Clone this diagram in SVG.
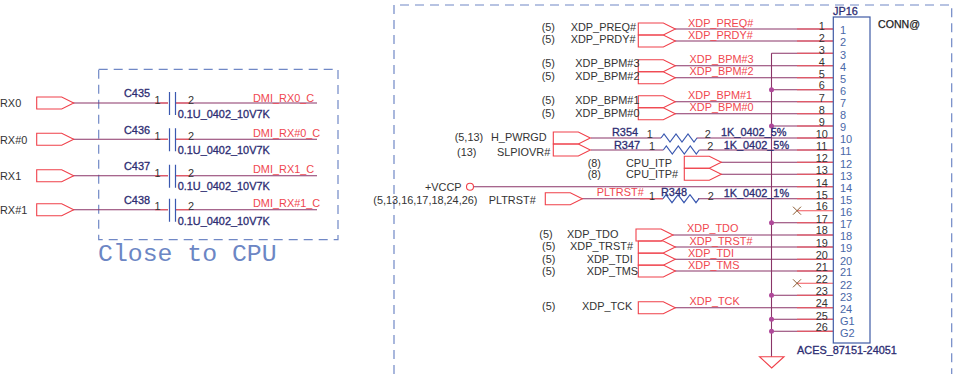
<svg xmlns="http://www.w3.org/2000/svg" width="955" height="374" viewBox="0 0 955 374">
<style>
text{font-family:"Liberation Sans",Arial,sans-serif;font-size:10.9px;fill:#333}
.r{fill:#f0474f}
.b{fill:#2c2c72;stroke:#2c2c72;stroke-width:.3;font-size:10.9px}
.k{fill:#222;stroke:#222;stroke-width:.25;font-size:10.6px}
.i{fill:#4a68a8;font-size:11px}
.pt{fill:none;stroke:#f0404a;stroke-width:1.1}
.w{fill:none;stroke:#8a3568;stroke-width:1.1}
.s{fill:none;stroke:#f2555c;stroke-width:1.1}
.c{fill:none;stroke:#3a58b0;stroke-width:1.2}
.d{fill:none;stroke:#7088c6;stroke-width:1.2;stroke-dasharray:9 6}
.dot{fill:#b0489a}
.x{fill:none;stroke:#8a5a30;stroke-width:1}
</style>
<defs>
<polygon id="p" class="pt" points="0,-6 25,-6 37,0 25,6 0,6"/>
<path id="z" class="c" d="M0 0l3-4 6 8 6-8 6 8 6-8 6 8 3-4"/>
<g id="cp"><path class="c" d="M-3-11v23M3-11v23"/></g>
<path id="xm" class="x" d="M-4-4l8 8M-4 4l8-8"/>
</defs>

<path class="d" d="M98.7 69.3H338V239.7H98.7Z"/>
<text x="98" y="261" style="font-family:'Liberation Mono',monospace;font-size:24.8px;fill:#6c86c4">Close to CPU</text>
<path class="d" d="M394 374V5H951.7V374"/>

<g id="connectors">
<path class="w" d="M73 103H168M176 103H317M73 139.3H168M176 139.3H317M73 175.7H168M176 175.7H317M73 209.7H168M176 209.7H317"/>
<path class="s" d="M155 103H168M176 103H190M155 139.3H168M176 139.3H190M155 175.7H168M176 175.7H190M155 209.7H168M176 209.7H190"/>
<path class="w" d="M675 29H833M675 41H833M771.5 53.2H833M675 65.7H833M675 77.7H833M771.5 89.7H833M675 101.7H833M675 113.7H833M771.5 126H833M590.7 138H661M696.7 138H833M590.7 150H663.3M699.3 150H833M721 162.3H833M721 174.3H833M473.5 186.7H833M581.7 198.7H663M698 198.7H833M771.5 222.7H833M672.7 235H833M675 247H833M675 259.3H833M675 271H833M771.5 295.3H833M675 307.7H833M771.5 319.3H833M771.5 331.3H833M771.5 53.2V356.7"/>
<path class="s" d="M797 29H833M797 41H833M797 53.2H833M797 65.7H833M797 77.7H833M797 89.7H833M797 101.7H833M797 113.7H833M797 126H833M797 138H833M797 150H833M797 162.3H833M797 174.3H833M797 186.7H833M797 198.7H833M797 210.7H833M797 222.7H833M797 235H833M797 247H833M797 259.3H833M797 271H833M797 283.3H833M797 295.3H833M797 307.7H833M797 319.3H833M797 331.3H833M640 198.7H663"/>
<circle class="dot" cx="771.5" cy="89.7" r="2.5"/><circle class="dot" cx="771.5" cy="126" r="2.5"/><circle class="dot" cx="771.5" cy="222.7" r="2.5"/><circle class="dot" cx="771.5" cy="295.3" r="2.5"/><circle class="dot" cx="771.5" cy="319.3" r="2.5"/><circle class="dot" cx="771.5" cy="331.3" r="2.5"/>
<use href="#xm" x="797" y="210.7"/><use href="#xm" x="797" y="283.3"/>
</g>

<g id="port-RX0"><use href="#p" x="36.7" y="103"/><text x="0" y="106.5">RX0</text></g>
<g id="port-RXn0"><use href="#p" x="36.7" y="139.3"/><text x="0" y="144">RX#0</text></g>
<g id="port-RX1"><use href="#p" x="36.7" y="175.7"/><text x="0" y="180">RX1</text></g>
<g id="port-RXn1"><use href="#p" x="36.7" y="209.7"/><text x="0" y="214">RX#1</text></g>

<g id="C435"><use href="#cp" x="172.5" y="103"/><text class="b" x="124" y="96.5">C435</text><text x="154.5" y="103.5">1</text><text x="188" y="103.5">2</text><text class="b" x="177.7" y="118">0.1U_0402_10V7K</text><text class="r" x="253" y="101.5">DMI_RX0_C</text></g>
<g id="C436"><use href="#cp" x="172.5" y="139.3"/><text class="b" x="124" y="133.5">C436</text><text x="154.5" y="140">1</text><text x="188" y="140">2</text><text class="b" x="177.7" y="153.5">0.1U_0402_10V7K</text><text class="r" x="253" y="137">DMI_RX#0_C</text></g>
<g id="C437"><use href="#cp" x="172.5" y="175.7"/><text class="b" x="124" y="169.5">C437</text><text x="154.5" y="177">1</text><text x="188" y="177">2</text><text class="b" x="177.7" y="190">0.1U_0402_10V7K</text><text class="r" x="253" y="173">DMI_RX1_C</text></g>
<g id="C438"><use href="#cp" x="172.5" y="209.7"/><text class="b" x="124" y="203.5">C438</text><text x="154.5" y="209.5">1</text><text x="188" y="209.5">2</text><text class="b" x="177.7" y="224.5">0.1U_0402_10V7K</text><text class="r" x="253" y="207">DMI_RX#1_C</text></g>

<g id="port-XDP_PREQ"><use href="#p" x="638.3" y="29"/><text x="541.7" y="31">(5)</text><text x="570.7" y="31">XDP_PREQ#</text><text class="r" x="688" y="27">XDP_PREQ#</text></g>
<g id="port-XDP_PRDY"><use href="#p" x="638.3" y="41"/><text x="541.7" y="43">(5)</text><text x="570.7" y="43">XDP_PRDY#</text><text class="r" x="688" y="39">XDP_PRDY#</text></g>
<g id="port-XDP_BPM3"><use href="#p" x="638.3" y="65.7"/><text x="541.7" y="67">(5)</text><text x="575.3" y="67">XDP_BPM#3</text><text class="r" x="689.5" y="63">XDP_BPM#3</text></g>
<g id="port-XDP_BPM2"><use href="#p" x="638.3" y="77.7"/><text x="541.7" y="80">(5)</text><text x="575.3" y="80">XDP_BPM#2</text><text class="r" x="689.5" y="75">XDP_BPM#2</text></g>
<g id="port-XDP_BPM1"><use href="#p" x="638.3" y="101.7"/><text x="541.7" y="104">(5)</text><text x="575.3" y="104">XDP_BPM#1</text><text class="r" x="688" y="99">XDP_BPM#1</text></g>
<g id="port-XDP_BPM0"><use href="#p" x="638.3" y="113.7"/><text x="541.7" y="116.7">(5)</text><text x="575.3" y="116.7">XDP_BPM#0</text><text class="r" x="689.5" y="111">XDP_BPM#0</text></g>
<g id="port-H_PWRGD"><use href="#p" x="553.3" y="138"/><text x="454.7" y="141">(5,13)</text><text x="491" y="141">H_PWRGD</text></g>
<g id="port-SLPIOVR"><use href="#p" x="553.3" y="150"/><text x="457" y="156">(13)</text><text x="497" y="156">SLPIOVR#</text></g>
<g id="R354"><use href="#z" x="661" y="138"/><text class="b" x="612" y="135.5">R354</text><text x="646.7" y="138">1</text><text x="704.7" y="138">2</text><text class="b" x="721" y="135.5">1K_0402_5%</text></g>
<g id="R347"><use href="#z" x="663.3" y="150"/><text class="b" x="614" y="148.5">R347</text><text x="649" y="150">1</text><text x="707.3" y="150">2</text><text class="b" x="723.7" y="148.5">1K_0402_5%</text></g>
<g id="port-CPU_ITP"><use href="#p" x="684.3" y="162.3"/><text x="587.7" y="166.5">(8)</text><text x="626" y="166.5">CPU_ITP</text></g>
<g id="port-CPU_ITPn"><use href="#p" x="684.3" y="174.3"/><text x="587.7" y="177.5">(8)</text><text x="626" y="177.5">CPU_ITP#</text></g>
<g id="VCCP"><circle class="pt" cx="470" cy="186.7" r="3.5"/><text x="425" y="190.5">+VCCP</text></g>
<g id="port-PLTRST"><use href="#p" x="545.3" y="198.7"/><text x="373.3" y="204">(5,13,16,17,18,24,26)</text><text x="488.7" y="204">PLTRST#</text><text class="r" x="596.7" y="196">PLTRST#</text></g>
<g id="R348"><use href="#z" x="663" y="198.7"/><text class="b" x="661" y="196">R348</text><text x="649" y="200">1</text><text x="707.7" y="200">2</text><text class="b" x="723.7" y="197">1K_0402_1%</text></g>
<g id="port-XDP_TDO"><use href="#p" x="636" y="235"/><text x="539.3" y="238">(5)</text><text x="567" y="238">XDP_TDO</text><text class="r" x="687" y="232">XDP_TDO</text></g>
<g id="port-XDP_TRST"><use href="#p" x="638.3" y="247"/><text x="542" y="250">(5)</text><text x="570" y="250">XDP_TRST#</text><text class="r" x="689.5" y="245">XDP_TRST#</text></g>
<g id="port-XDP_TDI"><use href="#p" x="638.3" y="259.3"/><text x="542" y="263">(5)</text><text x="586.7" y="263">XDP_TDI</text><text class="r" x="688" y="257">XDP_TDI</text></g>
<g id="port-XDP_TMS"><use href="#p" x="638.3" y="271"/><text x="542" y="275">(5)</text><text x="586.7" y="275">XDP_TMS</text><text class="r" x="688" y="269">XDP_TMS</text></g>
<g id="port-XDP_TCK"><use href="#p" x="638.3" y="307.7"/><text x="542" y="310">(5)</text><text x="582" y="310">XDP_TCK</text><text class="r" x="689.5" y="305">XDP_TCK</text></g>
<g id="GND"><path class="pt" d="M759.5 356.7H784L771.7 368Z"/></g>

<g id="JP16">
<rect x="833.3" y="17" width="36.7" height="326" fill="none" stroke="#3f5aa5" stroke-width="1.2"/>
<text class="b" x="833" y="15">JP16</text>
<text class="k" x="878" y="28">CONN@</text>
<text class="b" x="797" y="354">ACES_87151-24051</text>
<g text-anchor="middle">
<text x="821.7" y="29.5">1</text><text x="821.7" y="41.5">2</text><text x="821.7" y="53.5">3</text><text x="821.7" y="65.5">4</text><text x="821.7" y="78">5</text><text x="821.7" y="89">6</text><text x="821.7" y="102">7</text><text x="821.7" y="114">8</text><text x="821.7" y="126">9</text><text x="821.7" y="138">10</text><text x="821.7" y="150">11</text><text x="821.7" y="162">12</text><text x="821.7" y="174">13</text><text x="821.7" y="186.5">14</text><text x="821.7" y="199">15</text><text x="821.7" y="210">16</text><text x="821.7" y="222.5">17</text><text x="821.7" y="234">18</text><text x="821.7" y="247">19</text><text x="821.7" y="259">20</text><text x="821.7" y="271">21</text><text x="821.7" y="283">22</text><text x="821.7" y="295">23</text><text x="821.7" y="307">24</text><text x="821.7" y="320">25</text><text x="821.7" y="331">26</text>
</g>
<text class="i" x="840" y="34">1</text><text class="i" x="840" y="46">2</text><text class="i" x="840" y="59">3</text><text class="i" x="840" y="71">4</text><text class="i" x="840" y="83">5</text><text class="i" x="840" y="95">6</text><text class="i" x="840" y="107">7</text><text class="i" x="840" y="119">8</text><text class="i" x="840" y="131">9</text><text class="i" x="840" y="143">10</text><text class="i" x="840" y="155">11</text><text class="i" x="840" y="168">12</text><text class="i" x="840" y="180">13</text><text class="i" x="840" y="192">14</text><text class="i" x="840" y="204">15</text><text class="i" x="840" y="216">16</text><text class="i" x="840" y="228">17</text><text class="i" x="840" y="240">18</text><text class="i" x="840" y="252">19</text><text class="i" x="840" y="265">20</text><text class="i" x="840" y="276">21</text><text class="i" x="840" y="289">22</text><text class="i" x="840" y="301">23</text><text class="i" x="840" y="313">24</text><text class="i" x="840" y="325">G1</text><text class="i" x="840" y="337">G2</text>
</g>
</svg>
